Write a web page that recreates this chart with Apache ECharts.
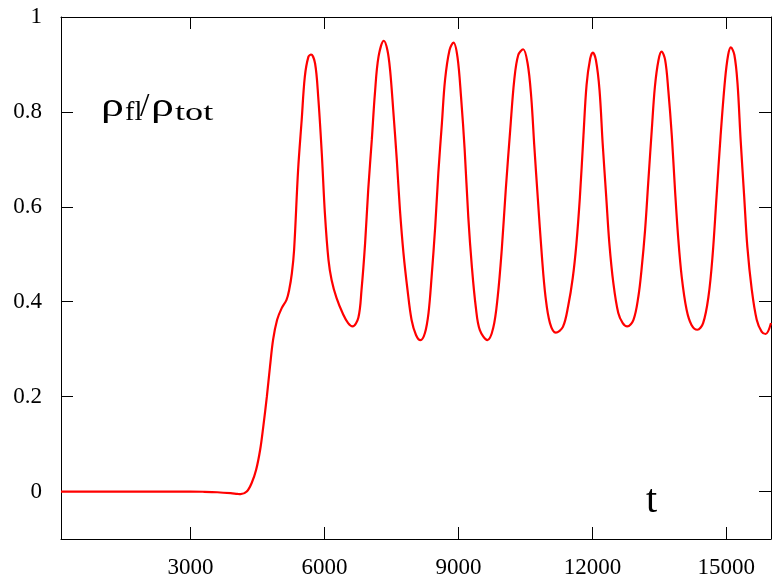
<!DOCTYPE html>
<html><head><meta charset="utf-8">
<script src="https://cdn.jsdelivr.net/npm/echarts@6/dist/echarts.min.js"></script>
<style>html,body{margin:0;padding:0;background:#fff}#c{width:772px;height:585px}</style>
</head><body><div id="c"></div>
<script>
// time values (t)
const tValues = [
  100, 500, 1000, 1500, 2000, 2500, 3000, 3300, 3600, 3900, 4050, 4120,
  4260, 4370, 4470, 4560, 4630, 4710, 4780, 4850, 4940, 5040, 5150, 5210, 5270, 5320,
  5410, 5490, 5560, 5640, 5700,
  5790, 5860, 5940, 6010, 6090, 6160, 6270, 6420, 6530, 6630,
  6760, 6830, 6910, 6980, 7060, 7130, 7210, 7330,
  7410, 7470, 7540, 7620, 7690, 7770, 7860, 7950, 8050, 8150,
  8250, 8330, 8400, 8480, 8550, 8630, 8700, 8800, 8890,
  8980, 9060, 9140, 9220, 9300, 9390, 9480, 9650,
  9780, 9880, 9970, 10060, 10160, 10250, 10340, 10450,
  10550, 10630, 10700, 10780, 10870, 10950, 11050, 11180,
  11340, 11460, 11560, 11640, 11720, 11800, 11870, 11950, 12010,
  12080, 12160, 12230, 12310, 12380, 12470, 12580, 12680, 12780,
  12920, 13030, 13100, 13180, 13250, 13330, 13400, 13480, 13550,
  13630, 13700, 13780, 13850, 13920, 14000, 14110, 14220, 14350,
  14480, 14600, 14690, 14780, 14870, 14970, 15040, 15100,
  15180, 15250, 15320, 15400, 15470, 15570, 15680, 15790, 15880, 16000
];
// rho_fl / rho_tot
const rhoRatio = [
  0, 0, 0, 0, 0, 0, 0, -0.0005, -0.0015, -0.0035, -0.005, -0.0055,
  0.0, 0.018, 0.046, 0.088, 0.137, 0.200, 0.263, 0.320, 0.362, 0.386, 0.404, 0.425, 0.460, 0.509,
  0.678, 0.783, 0.874, 0.916, 0.921,
  0.902, 0.832, 0.713, 0.586, 0.488, 0.446, 0.408, 0.373, 0.355, 0.348,
  0.367, 0.425, 0.523, 0.636, 0.741, 0.839, 0.916, 0.950,
  0.930, 0.888, 0.804, 0.699, 0.594, 0.502, 0.425, 0.362, 0.330, 0.319,
  0.334, 0.376, 0.453, 0.558, 0.671, 0.776, 0.867, 0.930, 0.946,
  0.915, 0.830, 0.720, 0.580, 0.475, 0.388, 0.340, 0.319,
  0.345, 0.411, 0.509, 0.636, 0.762, 0.867, 0.920, 0.932,
  0.902, 0.832, 0.727, 0.615, 0.495, 0.411, 0.355, 0.335,
  0.347, 0.392, 0.450, 0.520, 0.620, 0.750, 0.857, 0.912, 0.925,
  0.909, 0.846, 0.734, 0.621, 0.523, 0.439, 0.376, 0.355, 0.348,
  0.362, 0.411, 0.467, 0.551, 0.650, 0.762, 0.853, 0.909, 0.927,
  0.909, 0.846, 0.748, 0.636, 0.537, 0.453, 0.383, 0.351, 0.341,
  0.355, 0.411, 0.495, 0.621, 0.748, 0.867, 0.920, 0.936,
  0.920, 0.860, 0.741, 0.621, 0.516, 0.425, 0.362, 0.337, 0.332, 0.355
];
const xTicks = [3000, 6000, 9000, 12000, 15000];
const yTicks = [0, 0.2, 0.4, 0.6, 0.8, 1];

const serif = '"Liberation Serif", "Times New Roman", serif';
const chart = echarts.init(document.getElementById('c'), null, {renderer: 'canvas'});

function xAxisDef(pos, showLabel) {
  return {
    type: 'value', min: 100, max: 16000, position: pos,
    axisLine: {show: true, onZero: false, lineStyle: {color: '#000', width: 1}},
    axisTick: {show: true, inside: true, length: 12, customValues: xTicks, lineStyle: {color: '#000', width: 1}},
    axisLabel: {show: showLabel, customValues: xTicks, fontFamily: serif, fontSize: 23, color: '#000', margin: 17,
      formatter: v => String(Math.round(v))},
    splitLine: {show: false}
  };
}
function yAxisDef(pos, showLabel) {
  return {
    type: 'value', min: -0.1, max: 1, position: pos,
    axisLine: {show: true, onZero: false, lineStyle: {color: '#000', width: 1}},
    axisTick: {show: true, inside: true, length: 12, customValues: yTicks, lineStyle: {color: '#000', width: 1}},
    axisLabel: {show: showLabel, customValues: yTicks, fontFamily: serif, fontSize: 23, color: '#000', margin: 19,
      formatter: v => (Math.abs(v) < 1e-9 ? '0' : (Math.abs(v - 1) < 1e-9 ? '1' : v.toFixed(1)))},
    splitLine: {show: false}
  };
}

const txt = (s, x, y, size, sx) => ({
  type: 'text', x: x, y: y, scaleX: sx || 1, z: 100,
  style: {text: s, font: size + 'px ' + serif, fill: '#000', align: 'left', verticalAlign: 'middle'}
});

chart.setOption({
  animation: false,
  backgroundColor: '#fff',
  grid: {left: 61, right: 1, top: 17, bottom: 46, containLabel: false},
  xAxis: [xAxisDef('bottom', true), xAxisDef('top', false)],
  yAxis: [yAxisDef('left', true), yAxisDef('right', false)],
  series: [{
    type: 'line',
    xAxisIndex: 0, yAxisIndex: 0,
    data: tValues.map((t, i) => [t, rhoRatio[i]]),
    showSymbol: false,
    smooth: 0.35,
    lineStyle: {color: '#ff0000', width: 2.2},
    clip: true
  }],
  graphic: [
    txt('ρ', 101, 107.5, 34, 1.35),
    txt('fl', 125, 112.5, 27, 1.05),
    txt('/', 140, 107.5, 34, 1),
    txt('ρ', 151, 107.5, 34, 1.35),
    txt('tot', 175, 113, 25, 1.45),
    txt('t', 646, 501.5, 40, 1)
  ]
});
</script>
</body></html>
